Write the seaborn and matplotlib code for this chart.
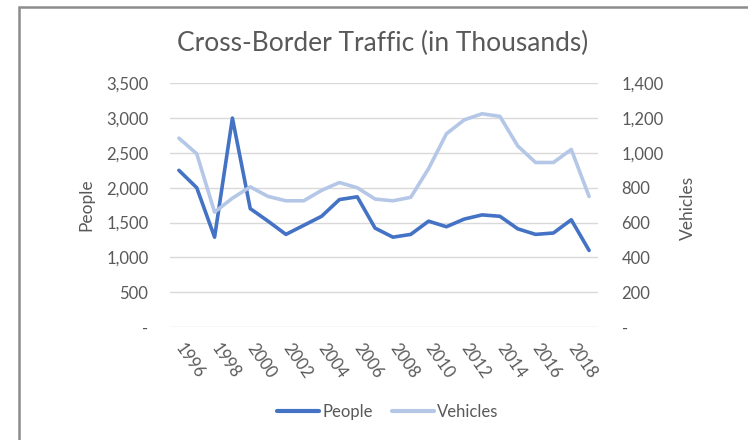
import matplotlib
matplotlib.use("Agg")
import matplotlib.pyplot as plt
import matplotlib.ticker as mticker
from matplotlib.patches import Rectangle
from matplotlib.lines import Line2D
import pandas as pd
import seaborn as sns

years = list(range(1996, 2020))
people = [2250, 2000, 1290, 3000, 1700, 1520, 1330, 1460, 1590, 1830, 1870, 1420,
          1290, 1330, 1520, 1440, 1550, 1610, 1590, 1410, 1330, 1350, 1540, 1100]
vehicles = [1085, 995, 660, 740, 805, 750, 725, 725, 785, 830, 800, 735,
            725, 745, 910, 1110, 1190, 1225, 1210, 1040, 945, 945, 1020, 750]
left_ticks = [0, 500, 1000, 1500, 2000, 2500, 3000, 3500]
right_ticks = [0, 200, 400, 600, 800, 1000, 1200, 1400]
year_ticks = list(range(1996, 2019, 2))

sns.set_style("white")
plt.rcParams["font.family"] = ["Lato", "DejaVu Sans"]

c_people = "#4472C4"
c_veh = "#B4C7E7"
c_text = "#595959"

df = pd.DataFrame({"year": years, "People": people, "Vehicles": vehicles})

fig = plt.figure(figsize=(7.48, 4.40), dpi=100)
ax = fig.add_axes([170 / 748, 1 - 327 / 440, 428 / 748, 243.7 / 440])
ax2 = ax.twinx()

sns.lineplot(data=df, x="year", y="People", ax=ax, color=c_people, linewidth=2.6,
             legend=False)
sns.lineplot(data=df, x="year", y="Vehicles", ax=ax2, color=c_veh, linewidth=2.6,
             legend=False)

def fmt(v, pos):
    return "-" if v == 0 else f"{int(v):,}"

ax.set_xlim(1995.5, 2019.5)
ax.set_ylim(0, 3500)
ax2.set_ylim(0, 1400)
ax.set_yticks(left_ticks)
ax2.set_yticks(right_ticks)
ax.yaxis.set_major_formatter(mticker.FuncFormatter(fmt))
ax2.yaxis.set_major_formatter(mticker.FuncFormatter(fmt))
ax.set_xticks(year_ticks)
ax.set_xticklabels([str(y) for y in year_ticks], rotation=-55, ha="left",
                   va="center", rotation_mode="anchor")

ax.grid(axis="y", color="#D9D9D9", linewidth=1)
ax.set_axisbelow(True)
for a in (ax, ax2):
    for s in a.spines.values():
        s.set_visible(False)
    a.tick_params(length=0, labelsize=12, labelcolor=c_text)
ax.tick_params(axis="y", pad=15.5)
ax2.tick_params(axis="y", pad=17)
ax.tick_params(axis="x", pad=13)

ax.set_xlabel("")
ax.set_ylabel("People", fontsize=12.5, color=c_text)
ax2.set_ylabel("Vehicles", fontsize=12.5, color=c_text)
ax.yaxis.set_label_coords(-0.176, 0.50)
ax2.yaxis.set_label_coords(1.192, 0.49)

fig.text(383 / 748, 1 - 43 / 440, "Cross-Border Traffic (in Thousands)",
         ha="center", va="center", fontsize=19, color=c_text)

handles = [Line2D([], [], color=c_people, linewidth=3),
           Line2D([], [], color=c_veh, linewidth=3)]
fig.legend(handles, ["People", "Vehicles"], loc="center",
           bbox_to_anchor=(388 / 748, 1 - 412 / 440), ncol=2, frameon=False,
           fontsize=12, labelcolor=c_text, handlelength=2.5, handletextpad=0.2,
           columnspacing=1.15)

fig.patches.append(Rectangle((19 / 748, -0.1), 1.2, 1 - 7 / 440 + 0.1,
                             transform=fig.transFigure, fill=False,
                             edgecolor="#8C8C8C", linewidth=1.8))

fig.savefig("out.png", dpi=100)
